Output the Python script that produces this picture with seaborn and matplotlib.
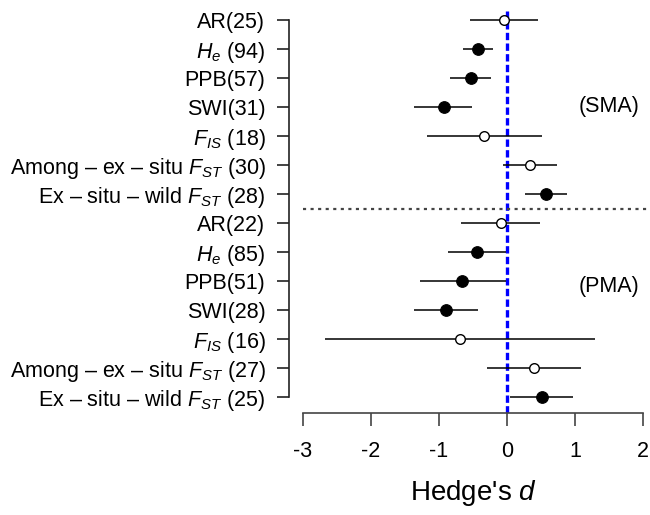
import numpy as np
import pandas as pd
import matplotlib
matplotlib.use("Agg")
import matplotlib.pyplot as plt
import seaborn as sns

# rows top to bottom: SMA block then PMA block
labels = ["AR(25)", "$H_e$ (94)", "PPB(57)", "SWI(31)", "$F_{IS}$ (18)",
          "Among \u2013 ex \u2013 situ $F_{ST}$ (30)", "Ex \u2013 situ \u2013 wild $F_{ST}$ (28)",
          "AR(22)", "$H_e$ (85)", "PPB(51)", "SWI(28)", "$F_{IS}$ (16)",
          "Among \u2013 ex \u2013 situ $F_{ST}$ (27)", "Ex \u2013 situ \u2013 wild $F_{ST}$ (25)"]
effect = [-0.05, -0.42, -0.53, -0.93, -0.34, 0.34, 0.57,
          -0.09, -0.44, -0.66, -0.90, -0.69, 0.39, 0.51]
ci_low = [-0.55, -0.64, -0.83, -1.36, -1.18, -0.06, 0.26,
          -0.67, -0.86, -1.28, -1.36, -2.67, -0.30, 0.05]
ci_high = [0.46, -0.20, -0.23, -0.51, 0.51, 0.73, 0.88,
           0.48, -0.01, -0.01, -0.43, 1.29, 1.09, 0.97]
significant = [False, True, True, True, False, False, True,
               False, True, True, True, False, False, True]
groups = ["(SMA)", "(PMA)"]
xticks = [-3, -2, -1, 0, 1, 2]

df = pd.DataFrame({"label": labels, "d": effect, "lo": ci_low, "hi": ci_high,
                   "sig": significant})
df["row"] = np.arange(1, len(df) + 1)

sns.set_style("ticks")
plt.rcParams["font.family"] = ["Liberation Sans", "DejaVu Sans"]
plt.rcParams["mathtext.fontset"] = "custom"
plt.rcParams["mathtext.rm"] = "Liberation Sans"
plt.rcParams["mathtext.it"] = "Liberation Sans:italic"
plt.rcParams["axes.unicode_minus"] = False
plt.rcParams["text.color"] = "black"
plt.rcParams["xtick.labelcolor"] = "black"
plt.rcParams["ytick.labelcolor"] = "black"

fig = plt.figure(figsize=(6.5, 5.15), dpi=100)
ax = fig.add_axes([289 / 650, 102 / 515, 361 / 650, 405 / 515])

# confidence intervals
ax.hlines(df["row"], df["lo"], df["hi"], color="black", lw=1.1, zorder=2)

# zero line and group separator
ax.axvline(0, color="blue", ls=(0, (2.2, 1.0)), lw=2.4, zorder=1)
ax.hlines(7.5, -3, 2.2, color="#444444", ls=(0, (1.4, 2.0)), lw=1.6, zorder=1)

sns.scatterplot(data=df[df["sig"]], x="d", y="row", color="black", s=70,
                edgecolor="black", linewidth=0.8, zorder=3, ax=ax, legend=False)
sns.scatterplot(data=df[~df["sig"]], x="d", y="row", color="white", s=48,
                edgecolor="black", linewidth=1.0, zorder=3, ax=ax, legend=False)

ax.text(1.95, 4, groups[0], ha="right", va="center", fontsize=15.5)
ax.text(1.95, 10.2, groups[1], ha="right", va="center", fontsize=15.5)

x0 = -3 - (302.7 - 289) / 68.1
ax.set_xlim(x0, x0 + 361 / 68.1)
ax.set_ylim(14 + 16 / 29.05, 1 - 12 / 29.05)

ax.set_yticks(df["row"])
ax.set_yticklabels(df["label"])
ax.set_xticks(xticks)
ax.set_xticklabels([str(t) for t in xticks])
ax.tick_params(axis="y", length=9, width=1.2, pad=8, labelsize=15.5, color="#222222")
ax.tick_params(axis="x", length=9, width=1.2, pad=11, labelsize=15.5, color="#444444")

for side in ["top", "right"]:
    ax.spines[side].set_visible(False)
ax.spines["left"].set_bounds(1, 14)
ax.spines["bottom"].set_bounds(-3, 2)
ax.spines["left"].set_linewidth(1.2)
ax.spines["bottom"].set_linewidth(1.2)
ax.spines["left"].set_color("#222222")
ax.spines["bottom"].set_color("#444444")

ax.set_ylabel("")
ax.set_xlabel("Hedge's $d$", fontsize=20, labelpad=12, color="black")
ax.xaxis.set_label_coords((473 - 289) / 361, -0.16)

fig.savefig("out.png", dpi=100)
